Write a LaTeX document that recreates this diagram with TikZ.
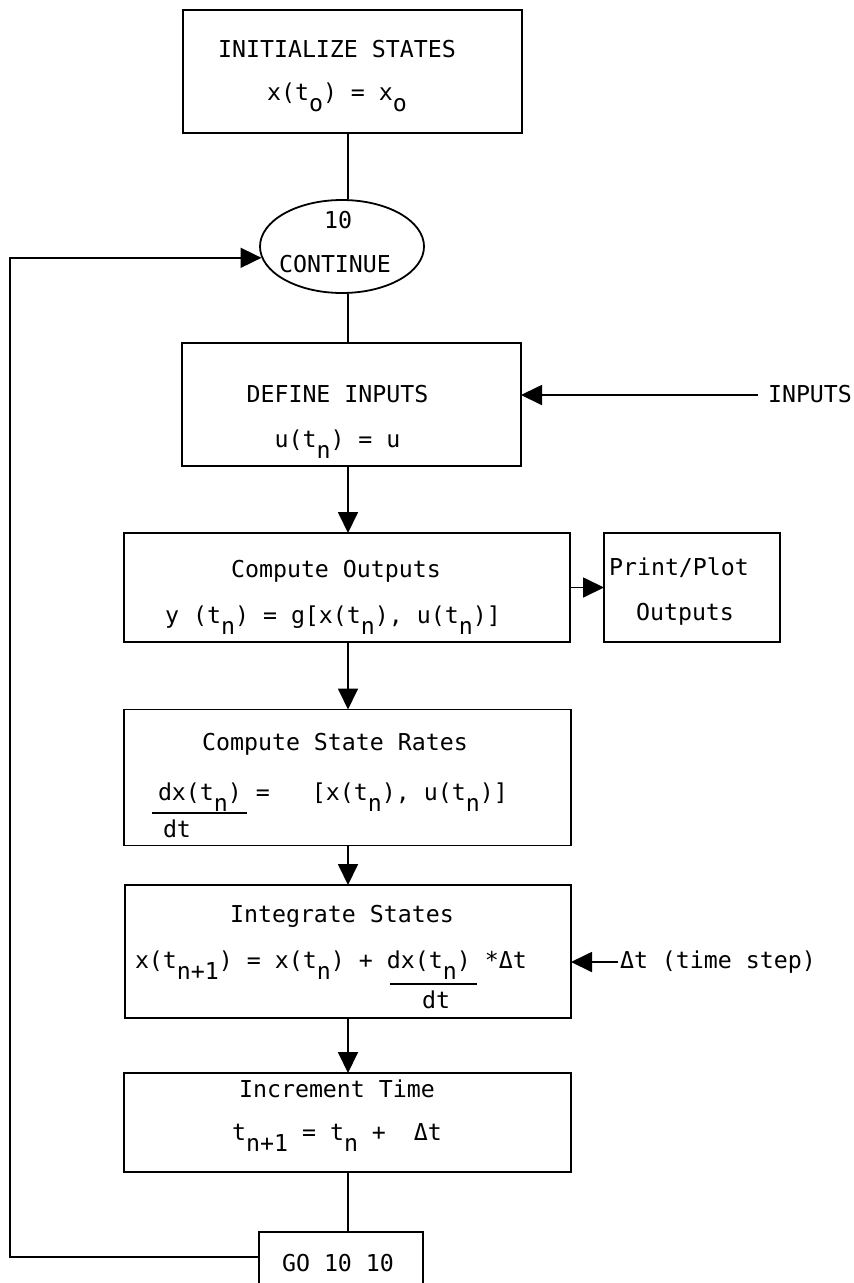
\documentclass[tikz,border=0pt]{standalone}
\usepackage{fontspec}
\setmainfont{DejaVu Sans Mono}
\usetikzlibrary{arrows.meta,shapes.geometric,calc}
\newcommand\sbs[1]{\raisebox{-11pt}{#1}}
\begin{document}
\begin{tikzpicture}[x=1pt,y=-1pt,
  every node/.style={font=\fontsize{23.25pt}{28pt}\selectfont},
  box/.style={draw, line width=1.8pt, inner sep=0pt, outer sep=0pt},
  lbl/.style={inner sep=0pt, outer sep=0pt, anchor=base},
  lblw/.style={inner sep=0pt, outer sep=0pt, anchor=base west},
  con/.style={line width=1.8pt},
  arr/.style={line width=1.8pt, -{Triangle[length=21pt,width=20pt]}},
  fbar/.style={line width=2.6pt}]
\useasboundingbox (0,0) rectangle (854,1283);
\clip (0,0) rectangle (854,1283);

% boxes
\node[box, minimum width=339pt, minimum height=123pt] (init) at (352.5,71.5) {};
\node[lbl] (init1) at (337,57) {INITIALIZE STATES};
\node[lbl] (init2) at (337,100) {x(t\sbs{o}) = x\sbs{o}};

\node[draw, ellipse, line width=1.8pt, minimum width=164pt, minimum height=93pt, inner sep=0pt] (cont) at (342,246.5) {};
\node[lbl] (cont1) at (338,228) {10};
\node[lbl] (cont2) at (335,272) {CONTINUE};

\node[box, minimum width=339pt, minimum height=123pt] (def) at (351.5,404.5) {};
\node[lbl] (def1) at (337.5,402) {DEFINE INPUTS};
\node[lbl] (def2) at (337.5,447) {u(t\sbs{n}) = u};
\node[lblw] (inp) at (768,402) {INPUTS};

\node[box, minimum width=446pt, minimum height=109pt] (out) at (347,587.5) {};
\node[lbl] (out1) at (336,577) {Compute Outputs};
\node[lbl] (out2) at (333,623) {y (t\sbs{n}) = g[x(t\sbs{n}), u(t\sbs{n})]};

\node[box, minimum width=176pt, minimum height=109pt] (pp) at (692,587.5) {};
\node[lbl] (pp1) at (679,575) {Print/Plot};
\node[lbl] (pp2) at (685,620) {Outputs};

\node[box, minimum width=447pt, minimum height=136pt] (rates) at (347.5,777.5) {};
\node[lbl] (rates1) at (335,750) {Compute State Rates};
\node[lblw] (rates2) at (158,800) {dx(t\sbs{n}) =~~~[x(t\sbs{n}), u(t\sbs{n})]};
\draw[fbar] (152,813) -- (247,813);
\node[lblw] (rates3) at (163,837) {dt};

\node[box, minimum width=446pt, minimum height=133pt] (integ) at (348,951.5) {};
\node[lbl] (integ1) at (342,922) {Integrate States};
\node[lblw] (integ2) at (135,968) {x(t\sbs{n+1}) = x(t\sbs{n}) + dx(t\sbs{n}) *Δt};
\draw[fbar] (390,984) -- (477,984);
\node[lblw] (integ3) at (422,1008) {dt};
\node[lblw] (ts) at (620,968) {Δt (time step)};

\node[box, minimum width=447pt, minimum height=99pt] (incr) at (347.5,1122.5) {};
\node[lbl] (incr1) at (337,1097) {Increment Time};
\node[lbl] (incr2) at (337,1140) {t\sbs{n+1} = t\sbs{n} +~~Δt};

\node[box, minimum width=164pt, minimum height=60pt] (go) at (341,1262) {};
\node[lbl] (go1) at (338,1271) {GO 10 10};

% connectors
\coordinate (ax) at (348,0);
\draw[con] (ax |- init.south) -- (ax |- cont.north);
\draw[con] (ax |- cont.south) -- (ax |- def.north);
\draw[arr] (ax |- def.south) -- (ax |- out.north);
\draw[arr] (ax |- out.south) -- (ax |- rates.north);
\draw[arr] (ax |- rates.south) -- (ax |- integ.north);
\draw[arr] (ax |- integ.south) -- (ax |- incr.north);
\draw[con] (ax |- incr.south) -- (ax |- go.north);
\draw[arr] (out.east) -- (pp.west);

\coordinate (inpa) at (758,395);
\draw[arr] (inpa) -- (def.east |- inpa);
\coordinate (tsa) at (618,962);
\draw[arr] (tsa) -- (integ.east |- tsa);

\coordinate (gl) at ($(go.north west)+(0,25)$);
\coordinate (lx) at (10,0);
\draw[arr] (gl) -- (gl -| lx) -- (lx |- cont.188) -- (cont.188);
\end{tikzpicture}
\end{document}
